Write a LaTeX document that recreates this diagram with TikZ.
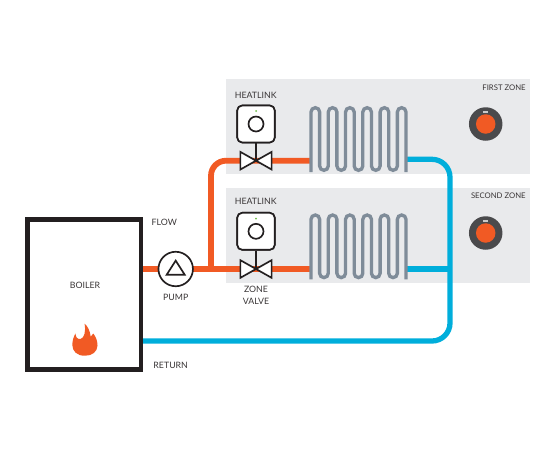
\documentclass[tikz,border=0pt]{standalone}
\usepackage{fontspec}
\setmainfont{Lato}
\usetikzlibrary{positioning,calc}
\definecolor{flowcol}{HTML}{F15A24}
\definecolor{returncol}{HTML}{00AEDB}
\definecolor{panelcol}{HTML}{E9EAEC}
\definecolor{radcol}{HTML}{7F8C99}
\definecolor{dialcol}{HTML}{4A4A4C}
\definecolor{inkcol}{HTML}{231F20}
\definecolor{ledcol}{HTML}{6CBE45}
\begin{document}
\begin{tikzpicture}[
    x=0.02cm, y=-0.02cm,
    panel/.style={fill=panelcol, draw=none, minimum width=6.08cm, minimum height=1.9cm, inner sep=0},
    flowpipe/.style={draw=flowcol, line width=3.3pt, rounded corners=0.3cm},
    returnpipe/.style={draw=returncol, line width=3pt, rounded corners=0.36cm},
    lbl/.style={font=\fontsize{5}{6}\selectfont, text=inkcol!90, inner sep=0},
    zonelbl/.style={font=\fontsize{4.4}{6}\selectfont, text=inkcol!90, inner sep=0, anchor=east},
    outline/.style={draw=inkcol, line width=0.95pt},
    heat/.style={outline, fill=white, rounded corners=0.1cm, minimum width=0.75cm, minimum height=0.74cm, inner sep=0},
    ring/.style={outline, circle, minimum size=0.3cm, inner sep=0},
    led/.style={fill=ledcol, circle, minimum size=0.04cm, inner sep=0},
    dial/.style={fill=dialcol, circle, minimum size=0.67cm, inner sep=0},
    knob/.style={fill=flowcol, circle, minimum size=0.39cm, inner sep=0},
    tick/.style={fill=white!70!dialcol, minimum width=0.09cm, minimum height=0.03cm, inner sep=0},
    radiator/.pic={
      \draw[draw=radcol, line width=1.9pt] (0,64.3)
        foreach \i in {0,2,4,6,8} {
          -- ({\i*8.636},4.318) arc[start angle=180, end angle=360, radius=4.318]
          -- ({(\i+1)*8.636},58.3) arc[start angle=180, end angle=0, radius=4.318]
        }
        -- (86.36,4.318) arc[start angle=180, end angle=360, radius=4.318] -- (95,64.3);
    },
    bowtie/.pic={
      \draw[outline, fill=white, line join=miter]
        (-15.6,-8.8) -- (15.6,8.8) -- (15.6,-8.8) -- (-15.6,8.8) -- cycle;
    },
  ]
  \useasboundingbox (0,0) rectangle (554,450);

  \node[panel] (zoneA) at (378,126.5) {};
  \node[panel] (zoneB) at (378,235.5) {};

  \coordinate (tee) at (211,269);
  \coordinate (valveA) at (256,160.7);
  \coordinate (valveB) at (256,269);
  \coordinate (radAin) at (311,160.7);
  \coordinate (radBin) at (311,269);
  \coordinate (radAout) at (406,159.3);
  \coordinate (radBout) at (406,269);
  \coordinate (riser) at (450,341);

  \node[draw=inkcol, line width=2.6pt, minimum width=2.27cm, minimum height=3cm, inner sep=0] (boiler) at (84.2,294.5) {};

  \draw[flowpipe] (boiler.east |- tee) -- (tee) -- (valveB) -- (radBin);
  \draw[flowpipe] (tee) -- (tee |- valveA) -- (valveA) -- (radAin);
  \draw[returnpipe] (boiler.east |- riser) -- (riser) -- (riser |- radAout) -- (radAout);
  \draw[returnpipe] (radBout) -- (radBout -| riser);

  \node[outline, fill=white, circle, minimum size=0.69cm, inner sep=0] (pump) at (175.7,269) {};
  \draw[outline] (166.7,274.7) -- (175.7,260.6) -- (184.7,274.7) -- cycle;

  \pic at (311,107.7) {radiator};
  \pic at (311,215) {radiator};

  \pic at (valveA) {bowtie};
  \pic at (valveB) {bowtie};
  \node[heat] (heatA) at (256,124) {};
  \node[heat] (heatB) at (256,231.3) {};
  \draw[outline] (heatA) -- (valveA);
  \draw[outline] (heatB) -- (valveB);
  \node[heat] at (heatA) {};
  \node[heat] at (heatB) {};
  \node[ring] (ringA) at (heatA) {};
  \node[ring] (ringB) at (heatB) {};
  \node[led] (ledA) at (256,111) {};
  \node[led] (ledB) at (256,218.7) {};

  \node[dial] (dialA) at (485.7,124) {};
  \node[dial] (dialB) at (485.7,233) {};
  \node[knob] (knobA) at (dialA) {};
  \node[knob] (knobB) at (dialB) {};
  \node[tick] (tickA) at (485.7,112) {};
  \node[tick] (tickB) at (485.7,221) {};

  \fill[flowcol] (85,355.7) .. controls (77,356) and (72.3,351) .. (72.3,345)
    .. controls (72.3,340) and (74,336) .. (75.5,333.5)
    .. controls (75.5,337) and (77.5,339.5) .. (80.5,339)
    .. controls (84.5,338) and (86,331) .. (84.5,323.5)
    .. controls (88,326.5) and (90,331) .. (90.7,336.7)
    .. controls (92,336) and (92.8,335) .. (93.3,333.5)
    .. controls (96,337) and (97.5,341) .. (97.5,345.5)
    .. controls (97.5,351.5) and (92,356) .. (85,355.7) -- cycle;

  \node[lbl] (heatlblA) at (255.7,95.7) {HEATLINK};
  \node[lbl] (heatlblB) at (255.7,201.3) {HEATLINK};
  \node[zonelbl] (zonelblA) at (526,88) {FIRST ZONE};
  \node[zonelbl] (zonelblB) at (526,196) {SECOND ZONE};
  \node[lbl] (flowlbl) at (164.3,222.7) {FLOW};
  \node[lbl] (returnlbl) at (170.7,365.7) {RETURN};
  \node[lbl] (boilerlbl) at (85,285.5) {BOILER};
  \node[lbl] (pumplbl) at (175.7,297.3) {PUMP};
  \node[lbl, align=center] (valvelbl) at (256,295.2) {ZONE\\[1.2pt]VALVE};
\end{tikzpicture}
\end{document}
